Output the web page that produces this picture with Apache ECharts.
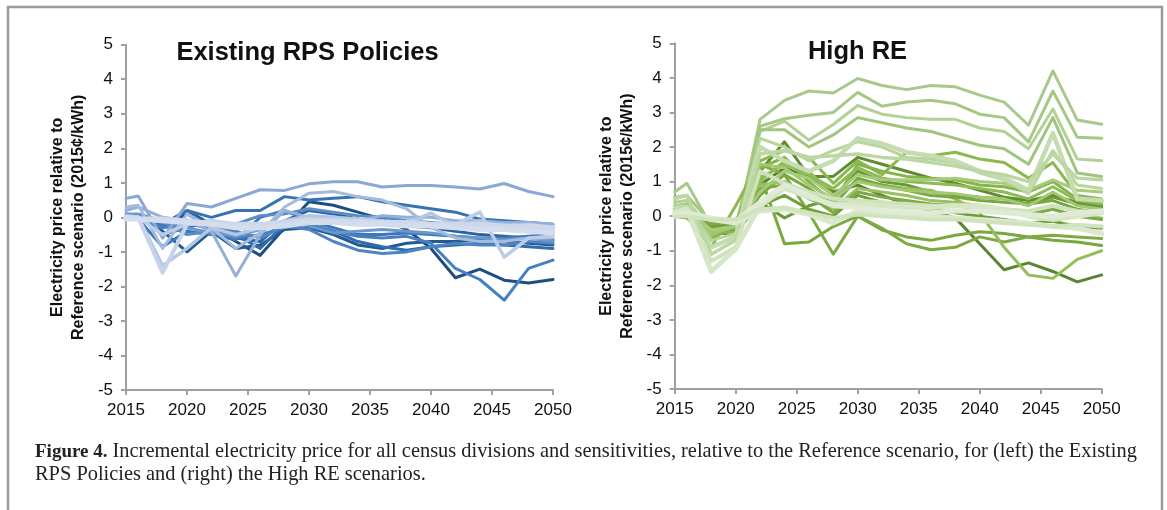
<!DOCTYPE html>
<html>
<head>
<meta charset="utf-8">
<script src="https://cdn.jsdelivr.net/npm/echarts@6/dist/echarts.min.js"></script>
<style>
  html, body { margin: 0; padding: 0; background: #fff; }
  #chart { width: 1167px; height: 510px; }
</style>
</head>
<body>
<div id="chart"></div>
<script>
// Model years shared by every curve
const years = [2015, 2016, 2018, 2020, 2022, 2024, 2026, 2028, 2030, 2032, 2034, 2036, 2038, 2040, 2042, 2044, 2046, 2048, 2050];

// Existing RPS Policies: incremental price by census division / sensitivity (2015¢/kWh)
const rpsSeries = [
  [0.0, 0.0, -0.3, 0.1, -0.3, -0.7, -1.1, -0.3, 0.45, 0.35, 0.15, -0.05, -0.35, -0.9, -1.75, -1.5, -1.82, -1.9, -1.8],
  [0.0, -0.05, -0.4, -1.0, -0.4, -0.9, -0.8, -0.35, -0.3, -0.5, -0.8, -0.9, -0.75, -0.7, -0.7, -0.65, -0.7, -0.75, -0.8],
  [0.0, 0.0, -0.2, 0.2, -0.2, -0.6, -0.7, -0.1, 0.2, 0.1, -0.05, -0.2, -0.25, -0.3, -0.4, -0.5, -0.55, -0.6, -0.65],
  [0.05, 0.05, -0.5, -0.3, -0.1, -0.5, -0.9, -0.2, -0.2, -0.4, -0.7, -0.85, -0.95, -0.85, -0.8, -0.75, -0.8, -0.85, -0.9],
  [0.0, 0.0, -0.2, 0.2, 0.0, 0.2, 0.2, 0.6, 0.5, 0.55, 0.6, 0.45, 0.35, 0.25, 0.15, -0.05, -0.1, -0.15, -0.2],
  [0.0, -0.05, -0.85, -0.4, -0.5, -0.65, 0.0, 0.2, -0.1, -0.3, -0.5, -0.5, -0.45, -0.5, -0.55, -0.6, -0.6, -0.55, -0.5],
  [0.0, 0.0, -0.3, -0.2, -0.3, -0.6, -0.5, -0.3, -0.2, -0.4, -0.55, -0.6, -0.55, -0.75, -1.48, -1.8, -2.4, -1.48, -1.24],
  [0.0, 0.0, -0.1, -0.1, -0.3, -0.4, -0.6, -0.25, -0.35, -0.7, -0.95, -1.05, -1.0, -0.85, -0.75, -0.8, -0.8, -0.7, -0.75],
  [0.0, 0.0, -0.15, -0.5, -0.4, -0.2, 0.05, 0.1, 0.25, 0.15, 0.05, 0.0, -0.1, -0.15, -0.2, -0.25, -0.3, -0.4, -0.4],
  [0.1, 0.1, -0.1, -0.3, -0.45, -0.55, -0.35, -0.1, -0.25, -0.45, -0.4, -0.35, -0.4, -0.45, -0.55, -0.6, -0.65, -0.6, -0.7],
  [0.55, 0.62, -0.6, 0.4, 0.3, 0.55, 0.8, 0.78, 0.97, 1.03, 1.03, 0.88, 0.92, 0.92, 0.88, 0.82, 0.98, 0.75, 0.6],
  [0.2, 0.3, 0.0, -0.1, -0.4, -1.7, -0.5, 0.2, 0.0, -0.05, -0.1, 0.05, 0.0, 0.0, -0.1, -0.1, -0.15, -0.15, -0.2],
  [0.3, 0.35, -0.9, 0.1, -0.3, -0.9, -0.45, 0.3, 0.7, 0.75, 0.6, 0.5, 0.25, -0.3, -0.6, -0.7, -0.7, -0.6, -0.6],
  [0.05, 0.0, -1.4, -0.9, -0.3, -0.5, -0.3, -0.1, 0.05, 0.0, -0.05, -0.1, -0.2, 0.12, -0.25, -0.1, -0.3, -0.2, -0.3],
  [0.0, 0.0, -0.5, -0.2, -0.15, -0.3, -0.3, -0.2, -0.05, -0.1, -0.15, -0.2, -0.25, -0.2, -0.2, 0.15, -1.15, -0.6, -0.55],
  [0.0, 0.0, -1.6, -0.2, -0.1, -0.2, -0.25, -0.15, -0.05, -0.1, -0.1, -0.15, -0.15, -0.2, -0.25, -0.25, -0.3, -0.3, -0.35],
  [0.0, -0.05, -0.05, -0.1, -0.2, -0.2, -0.2, -0.15, -0.1, -0.1, -0.12, -0.15, -0.15, -0.2, -0.2, -0.2, -0.25, -0.25, -0.3],
  [-0.05, -0.05, -0.1, -0.15, -0.2, -0.3, -0.3, -0.25, -0.15, -0.15, -0.2, -0.2, -0.25, -0.25, -0.3, -0.35, -0.35, -0.4, -0.45]
];
const rpsColors = ['#1c4e80', '#235a92', '#2a64a0', '#306cab', '#3673b3', '#3c78b8', '#4680c0', '#4d84c2', '#5a8cc6', '#6a97cb',
  '#8aa8d4', '#94afd8', '#a3bbdd', '#b3c6e3', '#bccce6', '#c6d3ea', '#cdd8ec', '#d3ddee'];
const rpsWidths = [3, 3, 3, 3, 3, 3, 3, 3, 3, 3, 3, 3, 3, 3.5, 3.5, 4, 5, 5];

// High RE: incremental price by census division / sensitivity (2015¢/kWh)
const highReSeries = [
  [0.7, 0.95, -0.3, -0.5, 2.8, 3.35, 3.62, 3.56, 3.98, 3.78, 3.66, 3.78, 3.74, 3.5, 3.3, 2.63, 4.2, 2.78, 2.66],
  [0.55, 0.6, -0.2, -0.4, 2.6, 2.82, 2.92, 3.0, 3.58, 3.18, 3.3, 3.35, 3.25, 2.95, 2.85, 2.15, 3.62, 2.28, 2.25],
  [0.4, 0.45, -0.4, -0.3, 2.45, 2.75, 2.2, 2.65, 3.2, 2.95, 2.85, 2.8, 2.8, 2.55, 2.45, 1.95, 3.1, 1.65, 1.6],
  [0.3, 0.35, -0.5, -0.3, 2.5, 2.5, 2.0, 2.35, 2.85, 2.7, 2.55, 2.45, 2.25, 2.05, 1.95, 1.5, 2.85, 1.25, 1.15],
  [0.0, -0.05, -0.3, -0.2, 1.3, 2.15, 1.15, 1.15, 1.7, 1.5, 1.3, 1.1, 0.95, 0.75, 0.55, 0.45, 0.6, 0.4, 0.3],
  [0.0, 0.0, -0.5, -0.5, 0.4, -0.05, 0.3, 0.5, 1.3, 1.0, 0.9, 0.7, 0.6, 0.55, 0.5, 0.35, 0.55, 0.35, 0.25],
  [0.0, 0.0, -0.4, -0.4, 0.9, 1.4, 1.1, 0.7, 0.9, 0.6, 0.35, 0.15, -0.05, -0.8, -1.55, -1.35, -1.6, -1.9, -1.7],
  [0.0, 0.0, -0.6, -0.3, 1.2, -0.8, -0.75, -0.3, 0.0, -0.4, -0.6, -0.7, -0.55, -0.45, -0.5, -0.6, -0.7, -0.75, -0.85],
  [0.0, -0.05, -0.7, -0.2, 1.5, 1.2, 0.1, -1.1, 0.0, -0.35, -0.8, -0.97, -0.9, -0.6, -0.75, -0.6, -0.55, -0.6, -0.65],
  [0.0, 0.0, -0.9, 0.3, 1.6, 1.9, 1.7, 0.95, 1.6, 1.2, 1.85, 1.75, 1.85, 1.65, 1.55, 1.1, 1.55, 0.6, 0.5],
  [0.0, 0.0, -0.5, -0.4, 1.0, 1.6, 1.3, 0.6, 1.0, 0.9, 0.8, 0.75, 0.5, 0.1, -0.9, -1.7, -1.8, -1.25, -1.0],
  [0.05, 0.05, -0.4, -0.5, 1.4, 1.7, 1.0, 0.4, 1.5, 1.3, 1.15, 1.1, 1.05, 0.9, 0.85, 0.7, 1.0, 0.5, 0.4],
  [0.0, 0.0, -0.3, -0.4, 0.6, 1.2, 0.8, 0.3, 1.1, 0.9, 0.75, 0.6, 0.55, 0.45, 0.4, 0.35, 0.45, 0.2, 0.1],
  [0.1, 0.1, -0.6, -0.1, 0.9, 1.0, 0.5, 0.2, 0.8, 0.7, 0.6, 0.45, 0.4, 0.3, 0.2, 0.1, 0.2, 0.0, -0.05],
  [0.0, 0.0, -0.3, -0.2, 0.3, 0.6, 0.2, 0.0, 0.6, 0.4, 0.3, 0.2, 0.1, 0.0, -0.1, -0.2, -0.15, -0.3, -0.35],
  [0.0, 0.0, -0.4, -0.3, 1.1, 1.5, 1.2, 0.8, 1.4, 1.1, 1.0, 0.95, 0.9, 0.8, 0.7, 0.5, 0.85, 0.45, 0.35],
  [0.1, 0.1, -0.5, -0.3, 1.5, 1.4, 0.9, 0.5, 1.0, 0.85, 0.75, 0.7, 0.65, 0.55, 0.5, 0.3, 0.7, 0.3, 0.2],
  [0.0, 0.0, -0.2, -0.2, 0.8, 0.9, 0.6, 0.1, 0.7, 0.55, 0.45, 0.35, 0.3, 0.2, 0.15, 0.05, 0.2, 0.0, -0.1],
  [0.2, 0.2, -0.4, -0.3, 0.7, 1.3, 1.1, 0.6, 1.2, 1.05, 1.05, 1.05, 1.1, 1.0, 0.95, 0.75, 1.05, 0.75, 0.7],
  [0.3, 0.3, -0.7, -0.5, 2.25, 2.0, 1.6, 1.9, 2.15, 2.0, 1.7, 1.65, 1.55, 1.25, 1.05, 0.65, 1.9, 0.9, 0.8],
  [0.2, 0.25, -0.9, -0.6, 2.0, 1.6, 1.3, 1.6, 2.25, 2.1, 1.85, 1.75, 1.6, 1.3, 1.1, 0.75, 2.4, 0.5, 0.45],
  [0.5, 0.6, -1.1, -0.7, 1.8, 1.9, 1.7, 1.75, 1.8, 1.7, 1.65, 1.55, 1.45, 1.3, 1.2, 1.0, 1.8, 1.1, 1.05],
  [0.1, 0.15, -1.3, -0.9, 1.3, 0.95, 0.7, 0.5, 0.45, 0.4, 0.35, 0.3, 0.3, 0.25, 0.2, 0.15, 0.3, 0.15, 0.1],
  [0.1, 0.2, -1.6, -0.95, 0.3, 0.8, 0.55, 0.35, 0.35, 0.3, 0.25, 0.25, 0.3, 0.3, 0.2, 0.0, -0.1, 0.0, 0.1],
  [0.0, 0.05, -0.1, -0.2, 0.15, 0.2, 0.05, -0.2, 0.15, 0.1, 0.05, 0.0, -0.05, -0.1, -0.15, -0.2, -0.3, -0.35, -0.5],
  [0.05, 0.1, -0.05, -0.15, 0.4, 0.9, 0.6, 0.3, 0.25, 0.15, 0.1, 0.1, 0.15, 0.15, 0.1, 0.05, 0.0, 0.1, 0.15],
  [0.0, 0.0, -0.1, -0.1, 0.2, 0.25, 0.1, -0.05, 0.05, 0.0, -0.05, -0.1, -0.1, -0.15, -0.2, -0.25, -0.3, -0.25, -0.3]
];
const highReColors = ['#a8c98b', '#a5c886', '#b2d195', '#a0c57f', '#5f8c32', '#6b9a38', '#5a8530', '#79a83f', '#7eaa44', '#8bb84f',
  '#93be58', '#86b44a', '#7aa742', '#98c262', '#6f9e3a', '#8fbb55', '#a2c872', '#7ea946', '#a6cb7a', '#b6d69a',
  '#c5dcb0', '#bcd7a4', '#cfe2bc', '#d6e6c6', '#dbe8cd', '#e0ebd5', '#d0e3be'];
const highReWidths = [3, 3, 3, 3, 3, 3, 3, 3, 3, 3, 3, 3, 3, 3, 3, 3, 3, 3, 3, 3, 4.5, 3.5, 4, 5, 5, 5, 4];

const panelTitles = ['Existing RPS Policies', 'High RE'];
const yAxisTitle = 'Electricity price relative to\nReference scenario (2015¢/kWh)';
const captionBold = 'Figure 4.';
const captionLine1 = ' Incremental electricity price for all census divisions and sensitivities, relative to the Reference scenario, for (left) the Existing';
const captionLine2 = 'RPS Policies and (right) the High RE scenarios.';

const sansFont = '"Liberation Sans", Arial, sans-serif';
const serifFont = '"Liberation Serif", "Times New Roman", serif';
const axisGray = '#a0a0a0';

function makeXAxis(gridIndex) {
  return {
    gridIndex, type: 'value', min: 2015, max: 2050, interval: 5,
    axisLine: { onZero: false, lineStyle: { color: axisGray, width: 2 } },
    axisTick: { length: 5, lineStyle: { color: axisGray, width: 2 } },
    axisLabel: { fontSize: 17, color: '#111', fontFamily: sansFont, margin: 12, formatter: v => String(v) },
    splitLine: { show: false }
  };
}
function makeYAxis(gridIndex) {
  return {
    gridIndex, type: 'value', min: -5, max: 5, interval: 1,
    name: yAxisTitle, nameLocation: 'middle', nameRotate: 90, nameGap: 37,
    nameTextStyle: { fontSize: 16, fontWeight: 'bold', color: '#111', fontFamily: sansFont, lineHeight: 21, align: 'center' },
    axisLine: { show: true, lineStyle: { color: axisGray, width: 2 } },
    axisTick: { show: true, length: 5, lineStyle: { color: axisGray, width: 2 } },
    axisLabel: { fontSize: 17, color: '#111', fontFamily: sansFont, margin: 13 },
    splitLine: { show: false }
  };
}
function makeSeries(list, colors, widths, axisIndex) {
  return list.map((vals, i) => ({
    type: 'line', xAxisIndex: axisIndex, yAxisIndex: axisIndex,
    data: vals.map((v, k) => [years[k], v]),
    showSymbol: false, symbol: 'none', silent: true, animation: false,
    lineStyle: { color: colors[i], width: widths[i], join: 'round', cap: 'round' }
  }));
}

const chart = echarts.init(document.getElementById('chart'), null, { renderer: 'canvas' });
chart.setOption({
  backgroundColor: '#fff',
  animation: false,
  grid: [
    { left: 126, right: 614, top: 44.7, bottom: 120 },
    { left: 674.7, right: 65.3, top: 43.3, bottom: 121 }
  ],
  xAxis: [makeXAxis(0), makeXAxis(1)],
  yAxis: [makeYAxis(0), makeYAxis(1)],
  series: [
    ...makeSeries(rpsSeries, rpsColors, rpsWidths, 0),
    ...makeSeries(highReSeries, highReColors, highReWidths, 1)
  ],
  graphic: [
    { type: 'rect', shape: { x: 8, y: 7, width: 1154, height: 540 }, style: { fill: 'none', stroke: '#9a9a9a', lineWidth: 2.5 }, silent: true },
    { type: 'text', x: 307.5, y: 53, style: { text: panelTitles[0], font: 'bold 25.5px ' + sansFont, fill: '#111', align: 'center', verticalAlign: 'middle' } },
    { type: 'text', x: 857.5, y: 52, style: { text: panelTitles[1], font: 'bold 25.5px ' + sansFont, fill: '#111', align: 'center', verticalAlign: 'middle' } },
    { type: 'text', x: 35, y: 452, style: {
        text: '{b|' + captionBold + '}{n|' + captionLine1 + '}',
        verticalAlign: 'middle',
        rich: {
          b: { font: 'bold 19px ' + serifFont, fill: '#222' },
          n: { font: '20.4px ' + serifFont, fill: '#222' }
        } } },
    { type: 'text', x: 35, y: 475, style: { text: captionLine2, font: '20.4px ' + serifFont, fill: '#222', verticalAlign: 'middle' } }
  ]
});
</script>
</body>
</html>
